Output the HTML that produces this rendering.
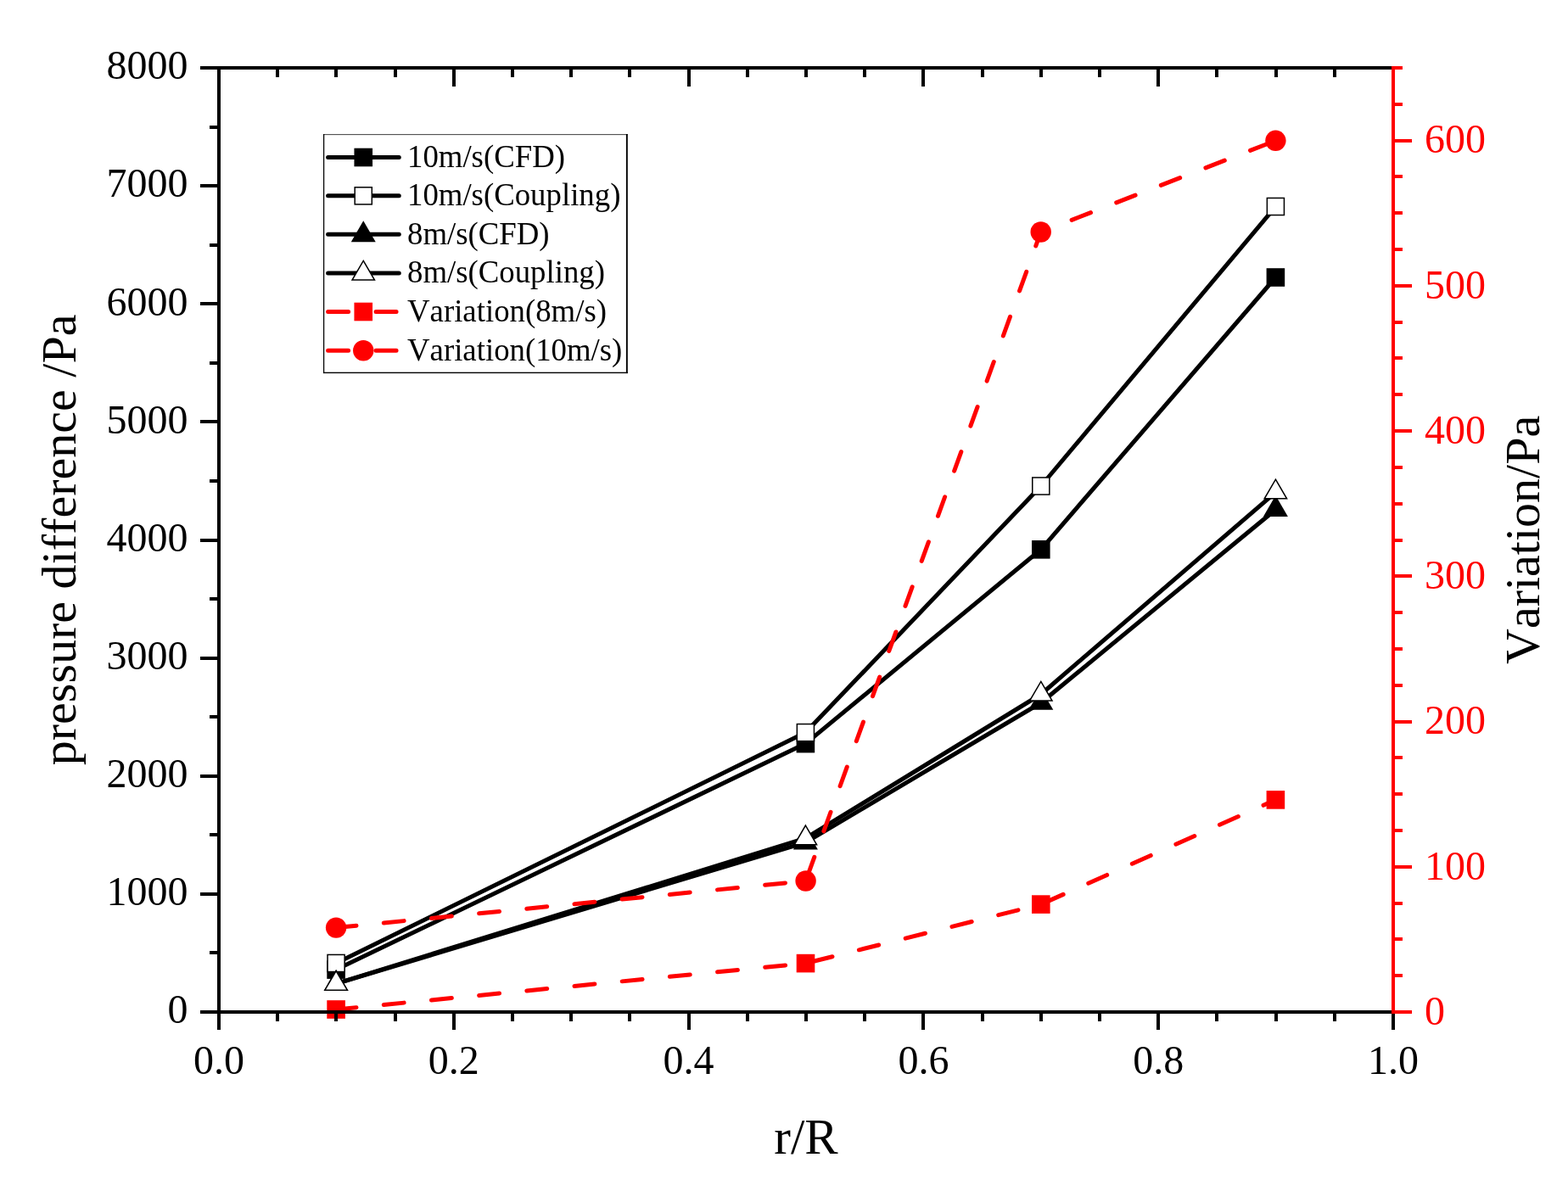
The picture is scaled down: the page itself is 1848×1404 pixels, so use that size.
<!DOCTYPE html>
<html lang="en">
<head>
<meta charset="utf-8">
<title>Pressure difference and variation versus r/R</title>
<style>
html,body{margin:0;padding:0;background:#fff;}
body{width:1848px;height:1404px;overflow:hidden;font-family:"Liberation Serif",serif;}
svg{display:block;}
text{white-space:pre;font-kerning:none;}
</style>
</head>
<body>
<svg width="1848" height="1404" viewBox="0 0 1848 1404" role="img" aria-label="Pressure difference and variation versus r/R">
<rect x="0" y="0" width="1848" height="1404" fill="#fff"/>
<g id="plot">
<g>
<path d="M396.1 1143.1L949.4 876.6L1226.8 647.8L1503.4 327" fill="none" stroke="#000" stroke-width="5" stroke-linejoin="round"/>
<rect x="385.3" y="1132.3" width="21.6" height="21.6" fill="#000"/>
<rect x="938.6" y="865.8" width="21.6" height="21.6" fill="#000"/>
<rect x="1216" y="637" width="21.6" height="21.6" fill="#000"/>
<rect x="1492.6" y="316.2" width="21.6" height="21.6" fill="#000"/>
</g>
<g>
<path d="M396.1 1135.5L949.4 863.6L1226.8 573L1503.4 243.5" fill="none" stroke="#000" stroke-width="5" stroke-linejoin="round"/>
<rect x="386.05" y="1125.45" width="20.1" height="20.1" fill="#fff" stroke="#000" stroke-width="1.5"/>
<rect x="939.35" y="853.55" width="20.1" height="20.1" fill="#fff" stroke="#000" stroke-width="1.5"/>
<rect x="1216.75" y="562.95" width="20.1" height="20.1" fill="#fff" stroke="#000" stroke-width="1.5"/>
<rect x="1493.35" y="233.45" width="20.1" height="20.1" fill="#fff" stroke="#000" stroke-width="1.5"/>
</g>
<g>
<path d="M396.1 1159.6L949.4 993.1L1226.8 828.5L1503.4 600.7" fill="none" stroke="#000" stroke-width="5" stroke-linejoin="round"/>
<path d="M396.1 1143L410.6 1167.9L381.6 1167.9Z" fill="#000"/>
<path d="M949.4 976.5L963.9 1001.4L934.9 1001.4Z" fill="#000"/>
<path d="M1226.8 811.9L1241.3 836.8L1212.3 836.8Z" fill="#000"/>
<path d="M1503.4 584.1L1517.9 609L1488.9 609Z" fill="#000"/>
</g>
<g>
<path d="M396.1 1159.6L949.4 988.2L1226.8 818.5L1503.4 580.3" fill="none" stroke="#000" stroke-width="5" stroke-linejoin="round"/>
<path d="M396.1 1144.5L409.3 1167.15L382.9 1167.15Z" fill="#fff" stroke="#000" stroke-width="1.5" stroke-linejoin="miter"/>
<path d="M949.4 973.1L962.6 995.75L936.2 995.75Z" fill="#fff" stroke="#000" stroke-width="1.5" stroke-linejoin="miter"/>
<path d="M1226.8 803.4L1240 826.05L1213.6 826.05Z" fill="#fff" stroke="#000" stroke-width="1.5" stroke-linejoin="miter"/>
<path d="M1503.4 565.2L1516.6 587.85L1490.2 587.85Z" fill="#fff" stroke="#000" stroke-width="1.5" stroke-linejoin="miter"/>
</g>
<g>
<path d="M396.1 1190L949.5 1135.6L1226.8 1066.1L1503.4 942.9" fill="none" stroke="#f00" stroke-width="5" stroke-linejoin="round" stroke-linecap="round" stroke-dasharray="24 32.45" stroke-dashoffset="0"/>
<rect x="385.3" y="1179.2" width="21.6" height="21.6" fill="#f00"/>
<rect x="938.7" y="1124.8" width="21.6" height="21.6" fill="#f00"/>
<rect x="1216" y="1055.3" width="21.6" height="21.6" fill="#f00"/>
<rect x="1492.6" y="932.1" width="21.6" height="21.6" fill="#f00"/>
</g>
<g>
<path d="M396.1 1093.6L949.6 1038.5" fill="none" stroke="#f00" stroke-width="5" stroke-linejoin="round" stroke-linecap="round" stroke-dasharray="24 32.45" stroke-dashoffset="0"/>
<path d="M949.6 1038.5L1226.7 273.5L1503.4 165.8" fill="none" stroke="#f00" stroke-width="5" stroke-linejoin="round" stroke-linecap="round" stroke-dasharray="24 32.45" stroke-dashoffset="50.49"/>
<circle cx="396.1" cy="1093.6" r="12.2" fill="#f00"/>
<circle cx="949.6" cy="1038.5" r="12.2" fill="#f00"/>
<circle cx="1226.7" cy="273.5" r="12.2" fill="#f00"/>
<circle cx="1503.4" cy="165.8" r="12.2" fill="#f00"/>
</g>
</g>
<g id="axes" shape-rendering="crispEdges">
<rect x="256" y="78" width="4" height="1136" fill="#000"/>
<rect x="236" y="78" width="1404" height="4" fill="#000"/>
<rect x="236" y="1191" width="1404" height="4" fill="#000"/>
<rect x="247" y="1121.44" width="9" height="4" fill="#000"/>
<rect x="236" y="1051.88" width="20" height="4" fill="#000"/>
<rect x="247" y="982.31" width="9" height="4" fill="#000"/>
<rect x="236" y="912.75" width="20" height="4" fill="#000"/>
<rect x="247" y="843.19" width="9" height="4" fill="#000"/>
<rect x="236" y="773.62" width="20" height="4" fill="#000"/>
<rect x="247" y="704.06" width="9" height="4" fill="#000"/>
<rect x="236" y="634.5" width="20" height="4" fill="#000"/>
<rect x="247" y="564.94" width="9" height="4" fill="#000"/>
<rect x="236" y="495.38" width="20" height="4" fill="#000"/>
<rect x="247" y="425.81" width="9" height="4" fill="#000"/>
<rect x="236" y="356.25" width="20" height="4" fill="#000"/>
<rect x="247" y="286.69" width="9" height="4" fill="#000"/>
<rect x="236" y="217.12" width="20" height="4" fill="#000"/>
<rect x="247" y="147.56" width="9" height="4" fill="#000"/>
<rect x="325.2" y="1195" width="4" height="9" fill="#000"/>
<rect x="325.2" y="82" width="4" height="8.5" fill="#000"/>
<rect x="394.4" y="1195" width="4" height="9" fill="#000"/>
<rect x="394.4" y="82" width="4" height="8.5" fill="#000"/>
<rect x="463.6" y="1195" width="4" height="9" fill="#000"/>
<rect x="463.6" y="82" width="4" height="8.5" fill="#000"/>
<rect x="532.8" y="1195" width="4" height="19" fill="#000"/>
<rect x="532.8" y="82" width="4" height="20" fill="#000"/>
<rect x="602" y="1195" width="4" height="9" fill="#000"/>
<rect x="602" y="82" width="4" height="8.5" fill="#000"/>
<rect x="671.2" y="1195" width="4" height="9" fill="#000"/>
<rect x="671.2" y="82" width="4" height="8.5" fill="#000"/>
<rect x="740.4" y="1195" width="4" height="9" fill="#000"/>
<rect x="740.4" y="82" width="4" height="8.5" fill="#000"/>
<rect x="809.6" y="1195" width="4" height="19" fill="#000"/>
<rect x="809.6" y="82" width="4" height="20" fill="#000"/>
<rect x="878.8" y="1195" width="4" height="9" fill="#000"/>
<rect x="878.8" y="82" width="4" height="8.5" fill="#000"/>
<rect x="948" y="1195" width="4" height="9" fill="#000"/>
<rect x="948" y="82" width="4" height="8.5" fill="#000"/>
<rect x="1017.2" y="1195" width="4" height="9" fill="#000"/>
<rect x="1017.2" y="82" width="4" height="8.5" fill="#000"/>
<rect x="1086.4" y="1195" width="4" height="19" fill="#000"/>
<rect x="1086.4" y="82" width="4" height="20" fill="#000"/>
<rect x="1155.6" y="1195" width="4" height="9" fill="#000"/>
<rect x="1155.6" y="82" width="4" height="8.5" fill="#000"/>
<rect x="1224.8" y="1195" width="4" height="9" fill="#000"/>
<rect x="1224.8" y="82" width="4" height="8.5" fill="#000"/>
<rect x="1294" y="1195" width="4" height="9" fill="#000"/>
<rect x="1294" y="82" width="4" height="8.5" fill="#000"/>
<rect x="1363.2" y="1195" width="4" height="19" fill="#000"/>
<rect x="1363.2" y="82" width="4" height="20" fill="#000"/>
<rect x="1432.4" y="1195" width="4" height="9" fill="#000"/>
<rect x="1432.4" y="82" width="4" height="8.5" fill="#000"/>
<rect x="1501.6" y="1195" width="4" height="9" fill="#000"/>
<rect x="1501.6" y="82" width="4" height="8.5" fill="#000"/>
<rect x="1570.8" y="1195" width="4" height="9" fill="#000"/>
<rect x="1570.8" y="82" width="4" height="8.5" fill="#000"/>
<rect x="1640" y="1195" width="4" height="19" fill="#000"/>
<rect x="1640" y="78" width="4" height="1117" fill="#f00"/>
<rect x="1644" y="1191" width="20" height="4" fill="#f00"/>
<rect x="1644" y="1148.19" width="9" height="4" fill="#f00"/>
<rect x="1644" y="1105.38" width="9" height="4" fill="#f00"/>
<rect x="1644" y="1062.58" width="9" height="4" fill="#f00"/>
<rect x="1644" y="1019.77" width="20" height="4" fill="#f00"/>
<rect x="1644" y="976.96" width="9" height="4" fill="#f00"/>
<rect x="1644" y="934.15" width="9" height="4" fill="#f00"/>
<rect x="1644" y="891.35" width="9" height="4" fill="#f00"/>
<rect x="1644" y="848.54" width="20" height="4" fill="#f00"/>
<rect x="1644" y="805.73" width="9" height="4" fill="#f00"/>
<rect x="1644" y="762.92" width="9" height="4" fill="#f00"/>
<rect x="1644" y="720.12" width="9" height="4" fill="#f00"/>
<rect x="1644" y="677.31" width="20" height="4" fill="#f00"/>
<rect x="1644" y="634.5" width="9" height="4" fill="#f00"/>
<rect x="1644" y="591.69" width="9" height="4" fill="#f00"/>
<rect x="1644" y="548.88" width="9" height="4" fill="#f00"/>
<rect x="1644" y="506.08" width="20" height="4" fill="#f00"/>
<rect x="1644" y="463.27" width="9" height="4" fill="#f00"/>
<rect x="1644" y="420.46" width="9" height="4" fill="#f00"/>
<rect x="1644" y="377.65" width="9" height="4" fill="#f00"/>
<rect x="1644" y="334.85" width="20" height="4" fill="#f00"/>
<rect x="1644" y="292.04" width="9" height="4" fill="#f00"/>
<rect x="1644" y="249.23" width="9" height="4" fill="#f00"/>
<rect x="1644" y="206.42" width="9" height="4" fill="#f00"/>
<rect x="1644" y="163.62" width="20" height="4" fill="#f00"/>
<rect x="1644" y="120.81" width="9" height="4" fill="#f00"/>
<rect x="1644" y="78" width="9" height="4" fill="#f00"/>
</g>
<g id="ticklabels" font-family="'Liberation Serif',serif" font-size="48">
<text transform="translate(221.5 1206.25) scale(1 1.02)" text-anchor="end" fill="#000">0</text>
<text transform="translate(221.5 1067.12) scale(1 1.02)" text-anchor="end" fill="#000">1000</text>
<text transform="translate(221.5 928) scale(1 1.02)" text-anchor="end" fill="#000">2000</text>
<text transform="translate(221.5 788.88) scale(1 1.02)" text-anchor="end" fill="#000">3000</text>
<text transform="translate(221.5 649.75) scale(1 1.02)" text-anchor="end" fill="#000">4000</text>
<text transform="translate(221.5 510.62) scale(1 1.02)" text-anchor="end" fill="#000">5000</text>
<text transform="translate(221.5 371.5) scale(1 1.02)" text-anchor="end" fill="#000">6000</text>
<text transform="translate(221.5 232.38) scale(1 1.02)" text-anchor="end" fill="#000">7000</text>
<text transform="translate(221.5 93.25) scale(1 1.02)" text-anchor="end" fill="#000">8000</text>
<text x="258" y="1266.4" text-anchor="middle" fill="#000">0.0</text>
<text x="534.8" y="1266.4" text-anchor="middle" fill="#000">0.2</text>
<text x="811.6" y="1266.4" text-anchor="middle" fill="#000">0.4</text>
<text x="1088.4" y="1266.4" text-anchor="middle" fill="#000">0.6</text>
<text x="1365.2" y="1266.4" text-anchor="middle" fill="#000">0.8</text>
<text x="1642" y="1266.4" text-anchor="middle" fill="#000">1.0</text>
<text x="1679" y="1207.8" text-anchor="start" fill="#f00">0</text>
<text x="1679" y="1036.57" text-anchor="start" fill="#f00">100</text>
<text x="1679" y="865.34" text-anchor="start" fill="#f00">200</text>
<text x="1679" y="694.11" text-anchor="start" fill="#f00">300</text>
<text x="1679" y="522.88" text-anchor="start" fill="#f00">400</text>
<text x="1679" y="351.65" text-anchor="start" fill="#f00">500</text>
<text x="1679" y="180.42" text-anchor="start" fill="#f00">600</text>
</g>
<g id="titles" font-family="'Liberation Serif',serif" font-size="58.4">
<text x="950" y="1360" font-size="59" text-anchor="middle" fill="#000">r/R</text>
<text transform="translate(88.8 636.4) rotate(-90)" font-size="58.05" text-anchor="middle" fill="#000">pressure difference /Pa</text>
<text transform="translate(1813.5 636.4) rotate(-90)" font-size="58" text-anchor="middle" fill="#000">Variation/Pa</text>
</g>
<g id="legend">
<rect x="381" y="158" width="358.8" height="282.1" fill="#fff"/>
<rect x="381" y="158" width="358.8" height="1.15" fill="#555"/>
<rect x="381" y="158" width="1.25" height="282.1" fill="#000"/>
<rect x="737.9" y="158" width="1.9" height="282.1" fill="#000"/>
<rect x="381" y="438.7" width="358.8" height="1.4" fill="#000"/>
<path d="M386.6 185.5L470.25 185.5" stroke="#000" stroke-width="5" stroke-linecap="round" fill="none"/>
<rect x="417.45" y="174.7" width="21.6" height="21.6" fill="#000"/>
<path d="M386.6 230.85L470.25 230.85" stroke="#000" stroke-width="5" stroke-linecap="round" fill="none"/>
<rect x="418.2" y="220.8" width="20.1" height="20.1" fill="#fff" stroke="#000" stroke-width="1.5"/>
<path d="M386.6 276.3L470.25 276.3" stroke="#000" stroke-width="5" stroke-linecap="round" fill="none"/>
<path d="M428.25 260.3L442.75 285.2L413.75 285.2Z" fill="#000"/>
<path d="M386.6 321.95L470.25 321.95" stroke="#000" stroke-width="5" stroke-linecap="round" fill="none"/>
<path d="M428.25 307.45L441.45 330.1L415.05 330.1Z" fill="#fff" stroke="#000" stroke-width="1.5" stroke-linejoin="miter"/>
<path d="M386.6 367.5L470.25 367.5" stroke="#f00" stroke-width="5" stroke-linecap="round" stroke-dasharray="24 32.45" fill="none"/>
<rect x="417.45" y="356.7" width="21.6" height="21.6" fill="#f00"/>
<path d="M386.6 413.25L470.25 413.25" stroke="#f00" stroke-width="5" stroke-linecap="round" stroke-dasharray="24 32.45" fill="none"/>
<circle cx="428.25" cy="413.25" r="12.2" fill="#f00"/>
<g font-family="'Liberation Serif',serif" font-size="36.8" fill="#000">
<text transform="translate(480 196.9) scale(1 1.04)">10m/s(CFD)</text>
<text transform="translate(480 242.25) scale(1 1.04)">10m/s(Coupling)</text>
<text transform="translate(480 287.7) scale(1 1.04)">8m/s(CFD)</text>
<text transform="translate(480 333.35) scale(1 1.04)">8m/s(Coupling)</text>
<text transform="translate(480 378.9) scale(1 1.04)">Variation(8m/s)</text>
<text transform="translate(480 424.65) scale(1 1.04)">Variation(10m/s)</text>
</g></g>
</svg>
</body>
</html>
